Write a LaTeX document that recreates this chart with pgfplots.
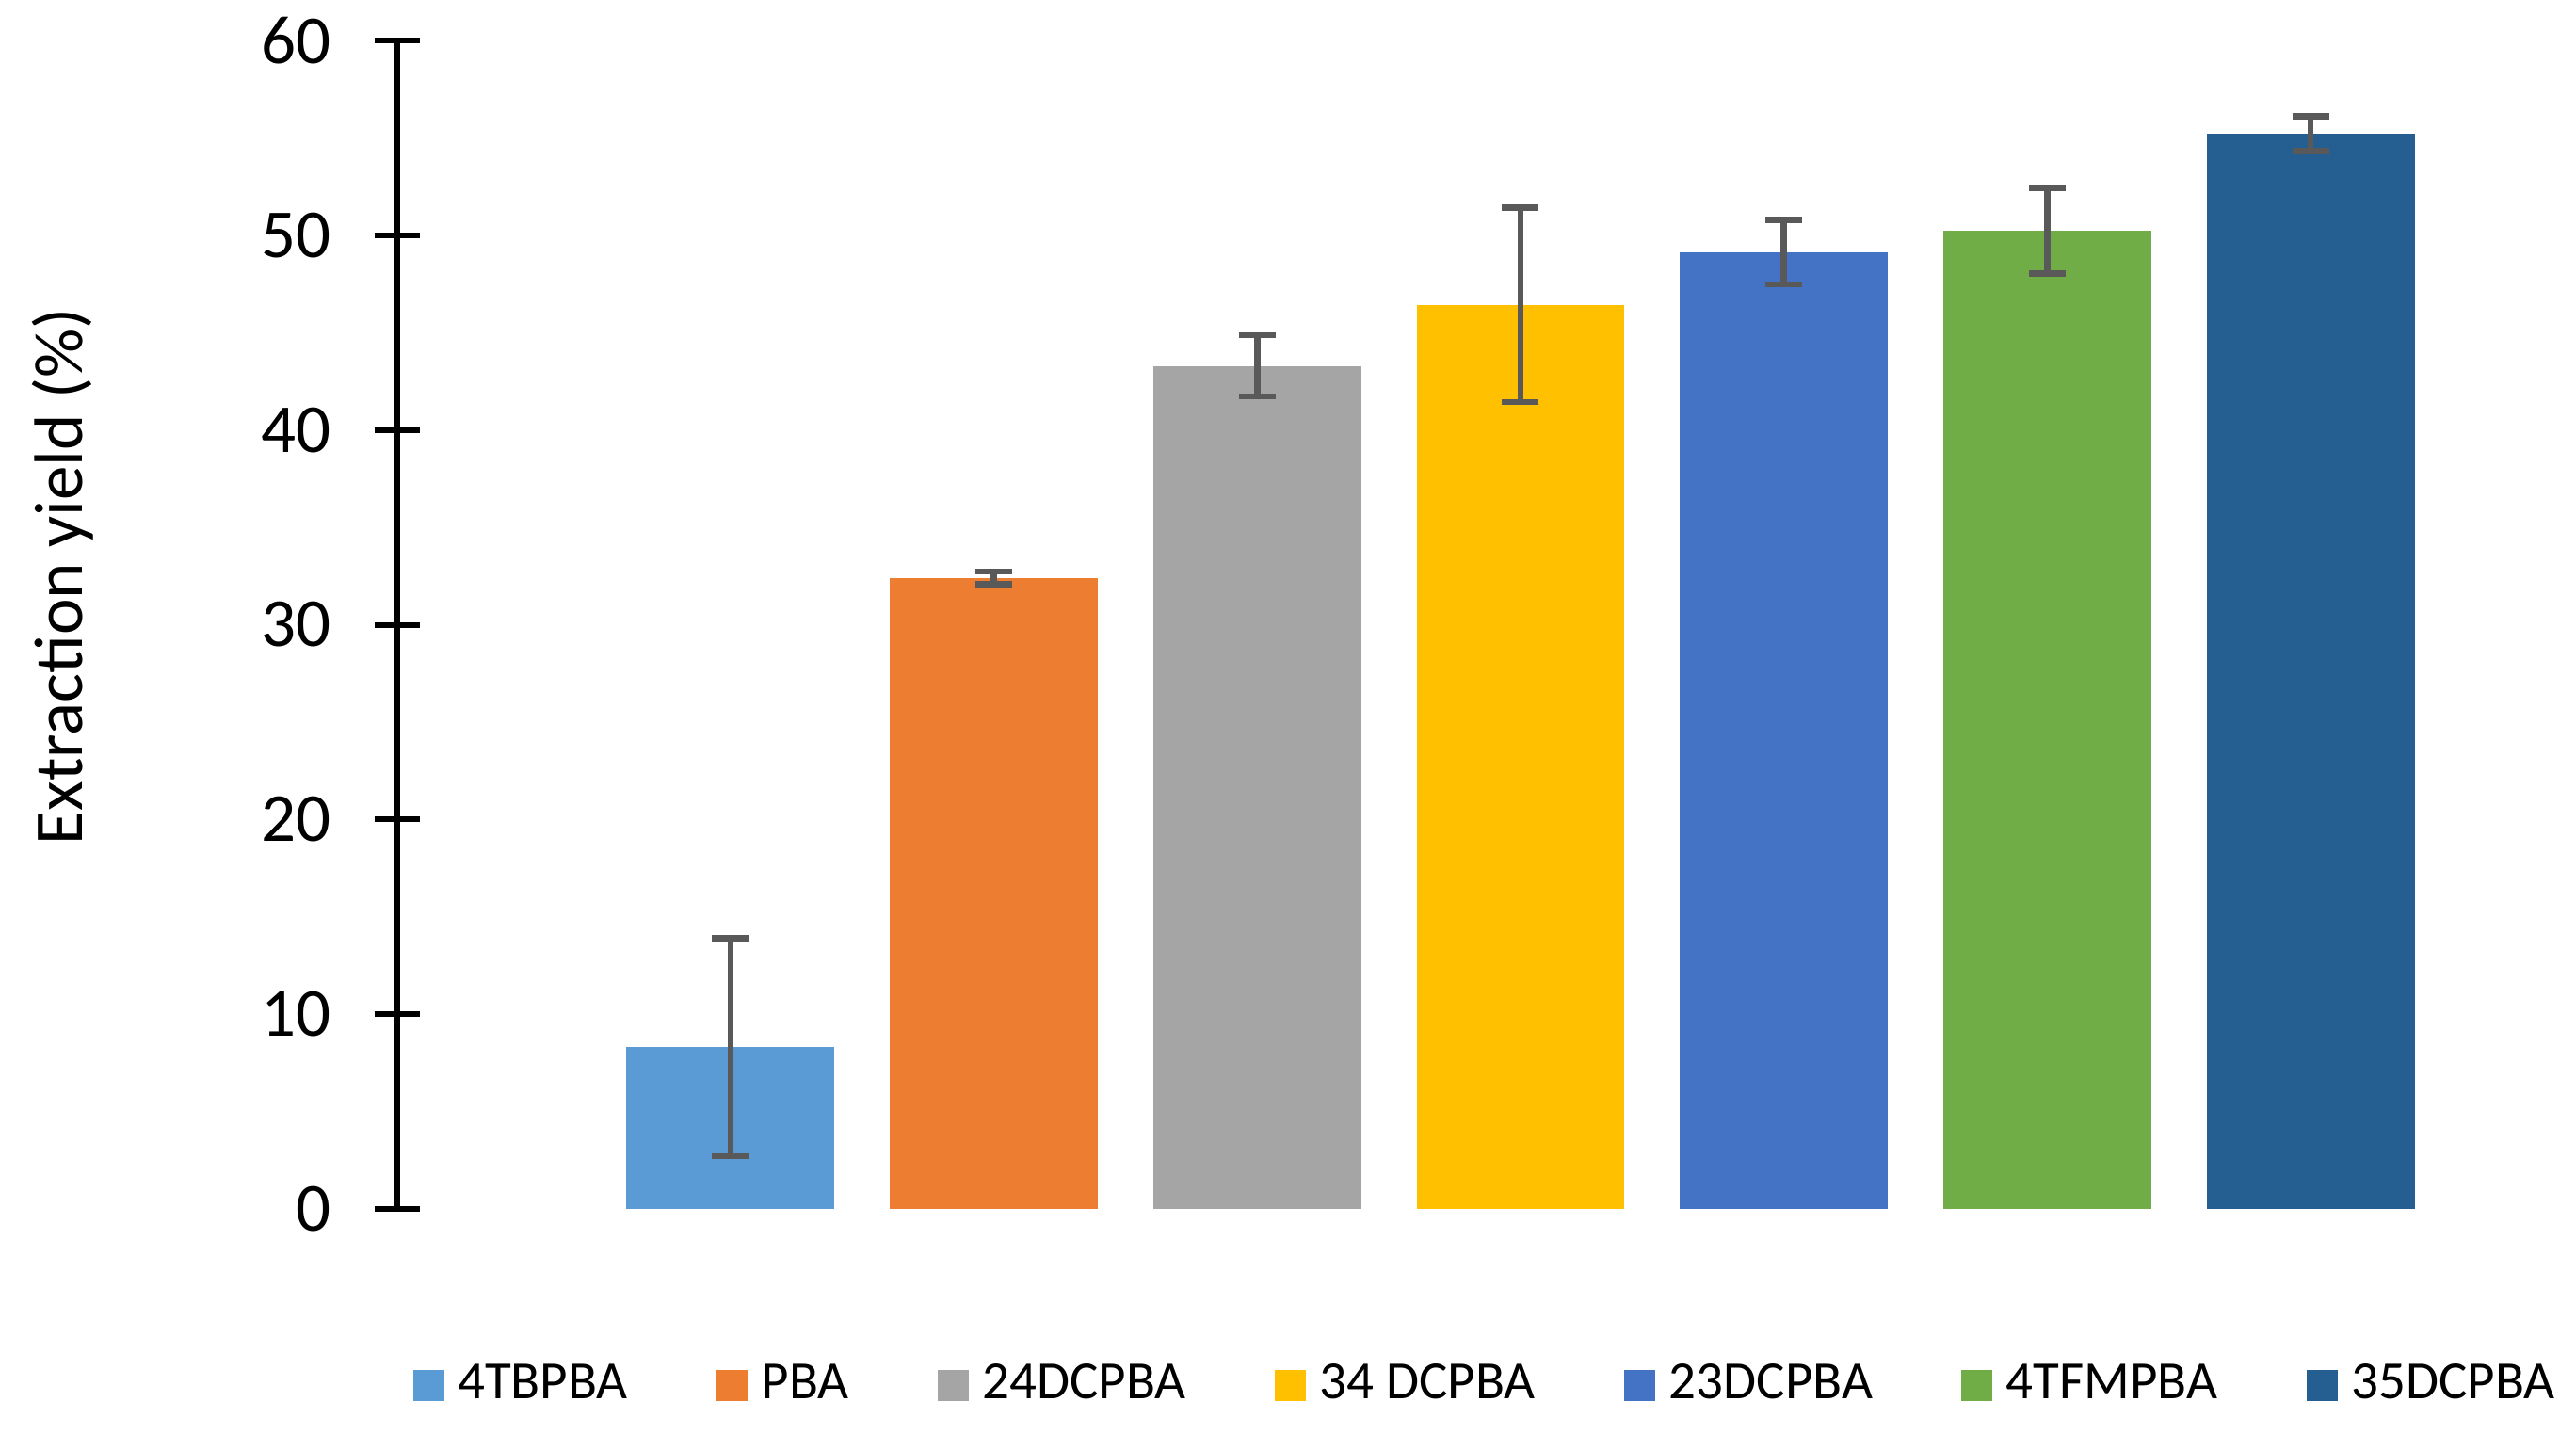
\documentclass[border=0pt]{standalone}
\usepackage{pgfplots}
\pgfplotsset{compat=1.18}
\usepackage{fontspec}
\setmainfont{Carlito}
\definecolor{c1}{HTML}{5B9BD5}
\definecolor{c2}{HTML}{ED7D31}
\definecolor{c3}{HTML}{A5A5A5}
\definecolor{c4}{HTML}{FFC000}
\definecolor{c5}{HTML}{4472C4}
\definecolor{c6}{HTML}{70AD47}
\definecolor{c7}{HTML}{255E91}
\definecolor{errc}{HTML}{595959}
\pgfplotsset{
  myerr/.style={
    error bars/.cd,
      y dir=both, y explicit,
      error mark=|,
      error bar style={line width=1.33pt, color=errc},
      error mark options={line width=1.33pt, mark size=3.9pt, color=errc},
  },
}
\begin{document}
\begin{tikzpicture}
\path[use as bounding box] (-84.4pt,-47.7pt) rectangle (462.8pt,256.76pt);
\begin{axis}[
  at={(0,0)}, anchor=south west,
  scale only axis,
  width=434.4pt, height=248.1pt,
  xmin=-1.265, xmax=6.5,
  ymin=0, ymax=60,
  ytick={0,10,20,30,40,50,60},
  axis x line=none,
  axis y line*=left,
  axis line style={line width=1.2pt, black},
  tick align=center,
  major tick length=9.7pt,
  tick style={line width=1.2pt, black},
  /pgf/number format/assume math mode=true,
  yticklabel style={font=\fontsize{14.6}{16}\selectfont, inner sep=0pt, xshift=-9pt},
  ylabel={Extraction yield (\%)},
  ylabel style={font=\fontsize{14.6}{16}\selectfont, at={(axis description cs:-0.1634,0.5415)}, anchor=center},
  ybar, bar width=0.79, bar shift=0pt,
  legend columns=-1,
  legend style={
    at={(rel axis cs:0.533,-0.151)}, anchor=center,
    draw=none, fill=none,
    font=\fontsize{11.4}{13}\selectfont,
    inner sep=0pt,
    nodes={inner xsep=1.4pt, inner ysep=1pt},
    /tikz/every odd column/.append style={column sep=1.5pt},
    /tikz/every even column/.append style={column sep=17.5pt},
  },
  legend image code/.code={\fill[#1, draw=none] (0pt,-3.3pt) rectangle (6.6pt,3.3pt);},
]
\addplot[fill=c1, draw=none, myerr] coordinates {(0,8.30) +- (0,5.60)};
\addplot[fill=c2, draw=none, myerr] coordinates {(1,32.40) +- (0,0.33)};
\addplot[fill=c3, draw=none, myerr] coordinates {(2,43.30) +- (0,1.57)};
\addplot[fill=c4, draw=none, myerr] coordinates {(3,46.43) +- (0,4.99)};
\addplot[fill=c5, draw=none, myerr] coordinates {(4,49.14) +- (0,1.65)};
\addplot[fill=c6, draw=none, myerr] coordinates {(5,50.25) +- (0,2.20)};
\addplot[fill=c7, draw=none, myerr] coordinates {(6,55.23) +- (0,0.90)};
\legend{4TBPBA, PBA, 24DCPBA, 34 DCPBA, 23DCPBA, 4TFMPBA, 35DCPBA}
\end{axis}
\end{tikzpicture}
\end{document}
